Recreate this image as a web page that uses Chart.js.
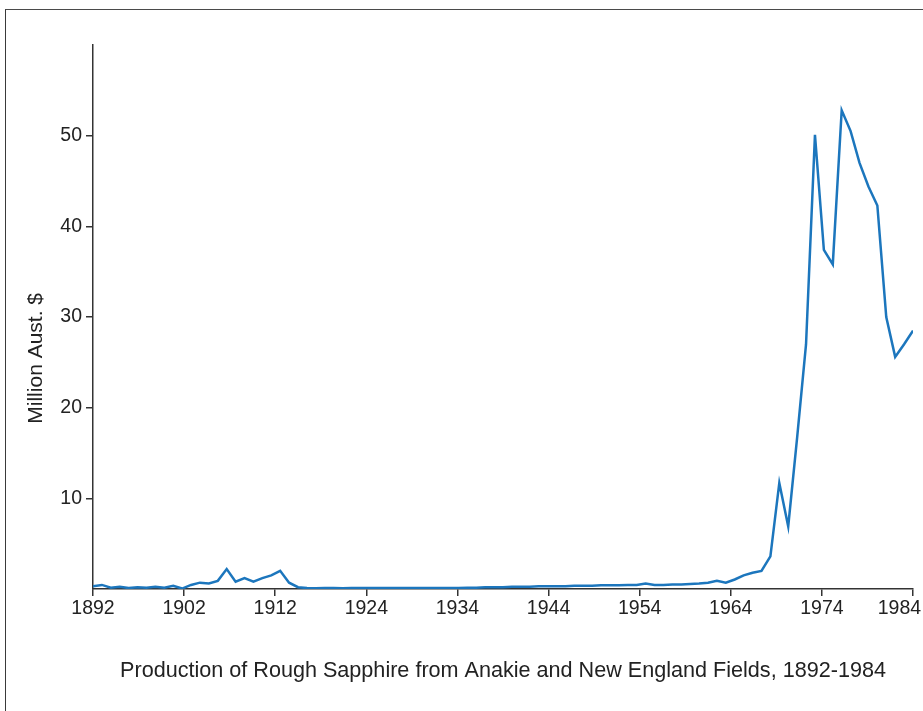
<!DOCTYPE html>
<html>
<head>
<meta charset="utf-8">
<script src="https://cdn.jsdelivr.net/npm/chart.js@4.4.1/dist/chart.umd.min.js"></script>
<style>
  html, body { margin: 0; padding: 0; background: #ffffff; }
  #wrap { position: relative; width: 923px; height: 711px; overflow: hidden; }
  #frame { position: absolute; left: 5px; top: 9px; width: 940px; height: 720px;
           border-left: 1.5px solid #3a3a3a; border-top: 1.5px solid #4a4a4a; pointer-events: none; }
  canvas { position: absolute; left: 0; top: 0; }
</style>
</head>
<body>
<div id="wrap">
  <div id="frame"></div>
  <canvas id="c" width="923" height="711"></canvas>
</div>
<script>
// ---- data ----
const firstYear = 1892;
const lastYear = 1984;
const years = [];
for (let y = firstYear; y <= lastYear; y++) years.push(y);

// Production value, million Aust. $, one per year 1892-1984
const production = [
  0.3, 0.45, 0.15, 0.25, 0.1, 0.2, 0.15, 0.25, 0.15, 0.35,      // 1892-1901
  0.05, 0.45, 0.7, 0.6, 0.9, 2.2, 0.8, 1.2, 0.8, 1.2,           // 1902-1911
  1.5, 2.0, 0.7, 0.2, 0.1, 0.08, 0.1, 0.1, 0.08, 0.1,           // 1912-1921
  0.1, 0.12, 0.1, 0.1, 0.12, 0.1, 0.1, 0.12, 0.1, 0.12,         // 1922-1931
  0.12, 0.12, 0.15, 0.15, 0.2, 0.2, 0.2, 0.25, 0.25, 0.25,      // 1932-1941
  0.3, 0.3, 0.3, 0.3, 0.35, 0.35, 0.35, 0.4, 0.4, 0.4,          // 1942-1951
  0.45, 0.45, 0.6, 0.45, 0.45, 0.5, 0.5, 0.55, 0.6, 0.7,        // 1952-1961
  0.9, 0.7, 1.05, 1.5, 1.8, 2.0, 3.6, 11.7, 6.9, 16.7,          // 1962-1971
  27.0, 50.1, 37.4, 35.8, 52.8, 50.5, 47.0, 44.4, 42.3, 30.0,   // 1972-1981
  25.6, 27.0, 28.5                                              // 1982-1984
];

// tick labels as printed on the reference x axis (evenly spaced along it)
const xTickLabels = ['1892', '1902', '1912', '1924', '1934', '1944', '1954', '1964', '1974', '1984'];
const yTickValues = [10, 20, 30, 40, 50];
const yMax = 60;

const chartTitle = 'Production of Rough Sapphire from Anakie and New England Fields, 1892-1984';
const yTitle = 'Million Aust. $';

// ---- chart ----
const FONT = '"Liberation Sans", Arial, Helvetica, sans-serif';
const points = years.map((yr, i) => ({ x: yr, y: production[i] }));

// y-axis title drawn a little below the axis middle, as in the reference
const yTitlePlugin = {
  id: 'yTitle',
  afterDraw(chart) {
    const { ctx, chartArea } = chart;
    const cy = chartArea.top + (chartArea.bottom - chartArea.top) * 0.576;
    ctx.save();
    ctx.translate(36, cy);
    ctx.rotate(-Math.PI / 2);
    ctx.textAlign = 'center';
    ctx.textBaseline = 'middle';
    ctx.fillStyle = '#222';
    ctx.font = '21px ' + FONT;
    ctx.fillText(yTitle, 0, 0);
    ctx.restore();
  }
};

new Chart(document.getElementById('c'), {
  type: 'line',
  data: {
    datasets: [{
      data: points,
      borderColor: '#1c76bd',
      borderWidth: 2.5,
      pointRadius: 0,
      tension: 0,
      fill: false
    }]
  },
  plugins: [yTitlePlugin],
  options: {
    responsive: false,
    animation: false,
    layout: { padding: { top: 45, right: 10, left: 0, bottom: 0 } },
    plugins: { legend: { display: false }, tooltip: { enabled: false } },
    scales: {
      x: {
        type: 'linear',
        min: firstYear,
        max: lastYear,
        afterBuildTicks: (s) => {
          const n = xTickLabels.length - 1;
          s.ticks = xTickLabels.map((_, i) => ({ value: firstYear + i * (lastYear - firstYear) / n }));
        },
        afterFit: (s) => { s.height = 122; s.paddingLeft = 0; s.paddingRight = 0; },
        grid: { display: true, drawOnChartArea: false, drawTicks: true, tickLength: 7, color: '#333', lineWidth: 1.5 },
        border: { display: true, color: '#333', width: 1.5 },
        ticks: {
          autoSkip: false,
          maxRotation: 0,
          padding: 1,
          color: '#222',
          font: { family: FONT, size: 19.5 },
          callback: (v, i) => i === xTickLabels.length - 1 ? xTickLabels[i] + '\u00a0\u00a0\u00a0\u00a0\u00a0' : xTickLabels[i]
        },
        title: {
          display: true,
          text: chartTitle,
          color: '#222',
          font: { family: FONT, size: 21.6 },
          padding: { top: 0, bottom: 27 }
        }
      },
      y: {
        type: 'linear',
        min: 0,
        max: yMax,
        afterBuildTicks: (s) => { s.ticks = yTickValues.map(v => ({ value: v })); },
        afterFit: (s) => { s.width = 93; s.paddingTop = 0; s.paddingBottom = 0; },
        grid: { display: true, drawOnChartArea: false, drawTicks: true, tickLength: 7, color: '#333', lineWidth: 1.5 },
        border: { display: true, color: '#333', width: 1.5 },
        ticks: {
          padding: 4,
          color: '#222',
          font: { family: FONT, size: 19.5 },
          callback: (v) => String(v)
        },
        title: { display: false, text: yTitle }
      }
    }
  }
});
</script>
</body>
</html>
